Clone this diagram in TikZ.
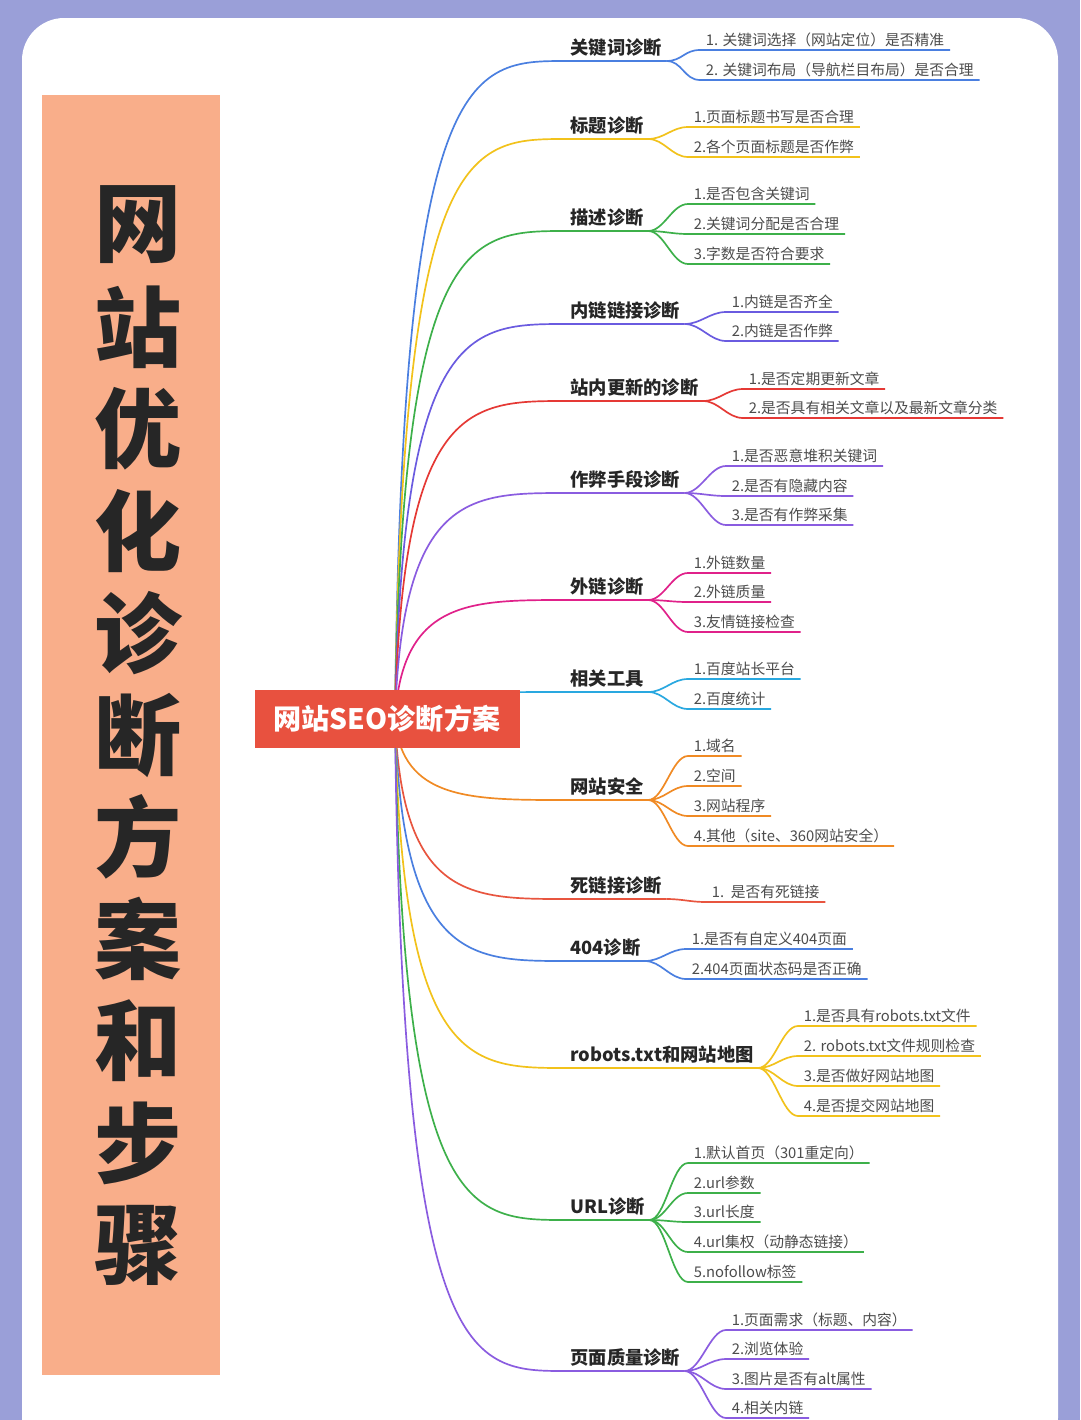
\documentclass[tikz,border=0pt]{standalone}
\usepackage{fontspec}
\setmainfont{Noto Sans CJK SC}
\definecolor{bgpurple}{HTML}{9A9FD8}
\definecolor{banner}{HTML}{F9AE8A}
\definecolor{rootred}{HTML}{E8513F}
\definecolor{cblue}{HTML}{4A7FE0}
\definecolor{cyellow}{HTML}{F2C21B}
\definecolor{cgreen}{HTML}{3DB04A}
\definecolor{cindigo}{HTML}{6A5BE0}
\definecolor{cred}{HTML}{E53935}
\definecolor{cviolet}{HTML}{8A5CE0}
\definecolor{cmagenta}{HTML}{E0218A}
\definecolor{ccyan}{HTML}{29A8E0}
\definecolor{corange}{HTML}{F08A24}
\definecolor{ctomato}{HTML}{E8553F}
\tikzset{
  branchlabel/.style={anchor=south west, inner xsep=3pt, inner ysep=3pt, font=\fontsize{13}{15}\selectfont\bfseries, text=black!85},
  leaflabel/.style={anchor=south west, inner xsep=4pt, inner ysep=2pt, font=\fontsize{10.5}{12}\selectfont, text=black!70},
  titlechar/.style={font=\fontsize{62}{62}\selectfont\bfseries, text=black!85},
  link/.style={line width=1.2pt}
}
\begin{document}
\begin{tikzpicture}[x=0.025cm, y=-0.025cm]
\useasboundingbox (0,0) rectangle (1080,1420);
\fill[bgpurple] (0,0) rectangle (1080,1420);
\fill[white, rounded corners=30] (22,18) rectangle (1058,1460);
\fill[banner] (42,95) rectangle (220,1375);

% vertical title
\foreach \ch [count=\k] in {网,站,优,化,诊,断,方,案,和,步,骤}
{
        \node[titlechar] (t\k) at (138, 225+102*\k-102) {\ch};
}

\coordinate (hub) at (395,719);

\foreach \lab/\ly/\col/\lx/\leaves [count=\i] in {
  关键词诊断/48/cblue/700/{1. 关键词选择（网站定位）是否精准/38, 2. 关键词布局（导航栏目布局）是否合理/68},
  标题诊断/126/cyellow/688/{1.页面标题书写是否合理/115, 2.各个页面标题是否作弊/145},
  描述诊断/218/cgreen/688/{1.是否包含关键词/192, 2.关键词分配是否合理/222, 3.字数是否符合要求/252},
  内链链接诊断/311/cindigo/726/{1.内链是否齐全/300, 2.内链是否作弊/329},
  站内更新的诊断/388/cred/743/{1.是否定期更新文章/377, 2.是否具有相关文章以及最新文章分类/406},
  作弊手段诊断/480/cviolet/726/{1.是否恶意堆积关键词/454, 2.是否有隐藏内容/484, 3.是否有作弊采集/513},
  外链诊断/587/cmagenta/688/{1.外链数量/561, 2.外链质量/590, 3.友情链接检查/620},
  相关工具/679/ccyan/688/{1.百度站长平台/667, 2.百度统计/697},
  网站安全/787/corange/688/{1.域名/744, 2.空间/774, 3.网站程序/804, 4.其他（site、360网站安全）/834},
  死链接诊断/886/ctomato/706/{1.\ \ 是否有死链接/890},
  404诊断/948/cblue/686/{1.是否有自定义404页面/937, 2.404页面状态码是否正确/967},
  robots.txt和网站地图/1055/cyellow/798/{1.是否具有robots.txt文件/1014, 2. robots.txt文件规则检查/1044, 3.是否做好网站地图/1074, 4.是否提交网站地图/1104},
  URL诊断/1207/cgreen/688/{1.默认首页（301重定向）/1151, 2.url参数/1181, 3.url长度/1210, 4.url集权（动静态链接）/1240, 5.nofollow标签/1270},
  页面质量诊断/1358/cviolet/726/{1.页面需求（标题、内容）/1318, 2.浏览体验/1347, 3.图片是否有alt属性/1377, 4.相关内链/1406}}
{
        \node[branchlabel] (b\i) at (566, \ly+13) {\lab};
        \draw[\col, link] (hub) .. controls (402, \ly+13) and (470, \ly+13) .. (b\i.south west) -- (b\i.south east);
        \foreach \txt/\ty [count=\j] in \leaves
        {
                \node[leaflabel] (l\i-\j) at (\lx, \ty+12) {\txt};
                \draw[\col, link] (b\i.south east) .. controls +(16,0) and +(-16,0) .. (l\i-\j.south west) -- (l\i-\j.south east);
        }
}

\node[fill=rootred, text=white, font=\fontsize{20}{22}\selectfont\bfseries, minimum width=265*0.025cm, minimum height=58*0.025cm, inner sep=0pt] (root) at (387,719) {网站SEO诊断方案};
\end{tikzpicture}
\end{document}
